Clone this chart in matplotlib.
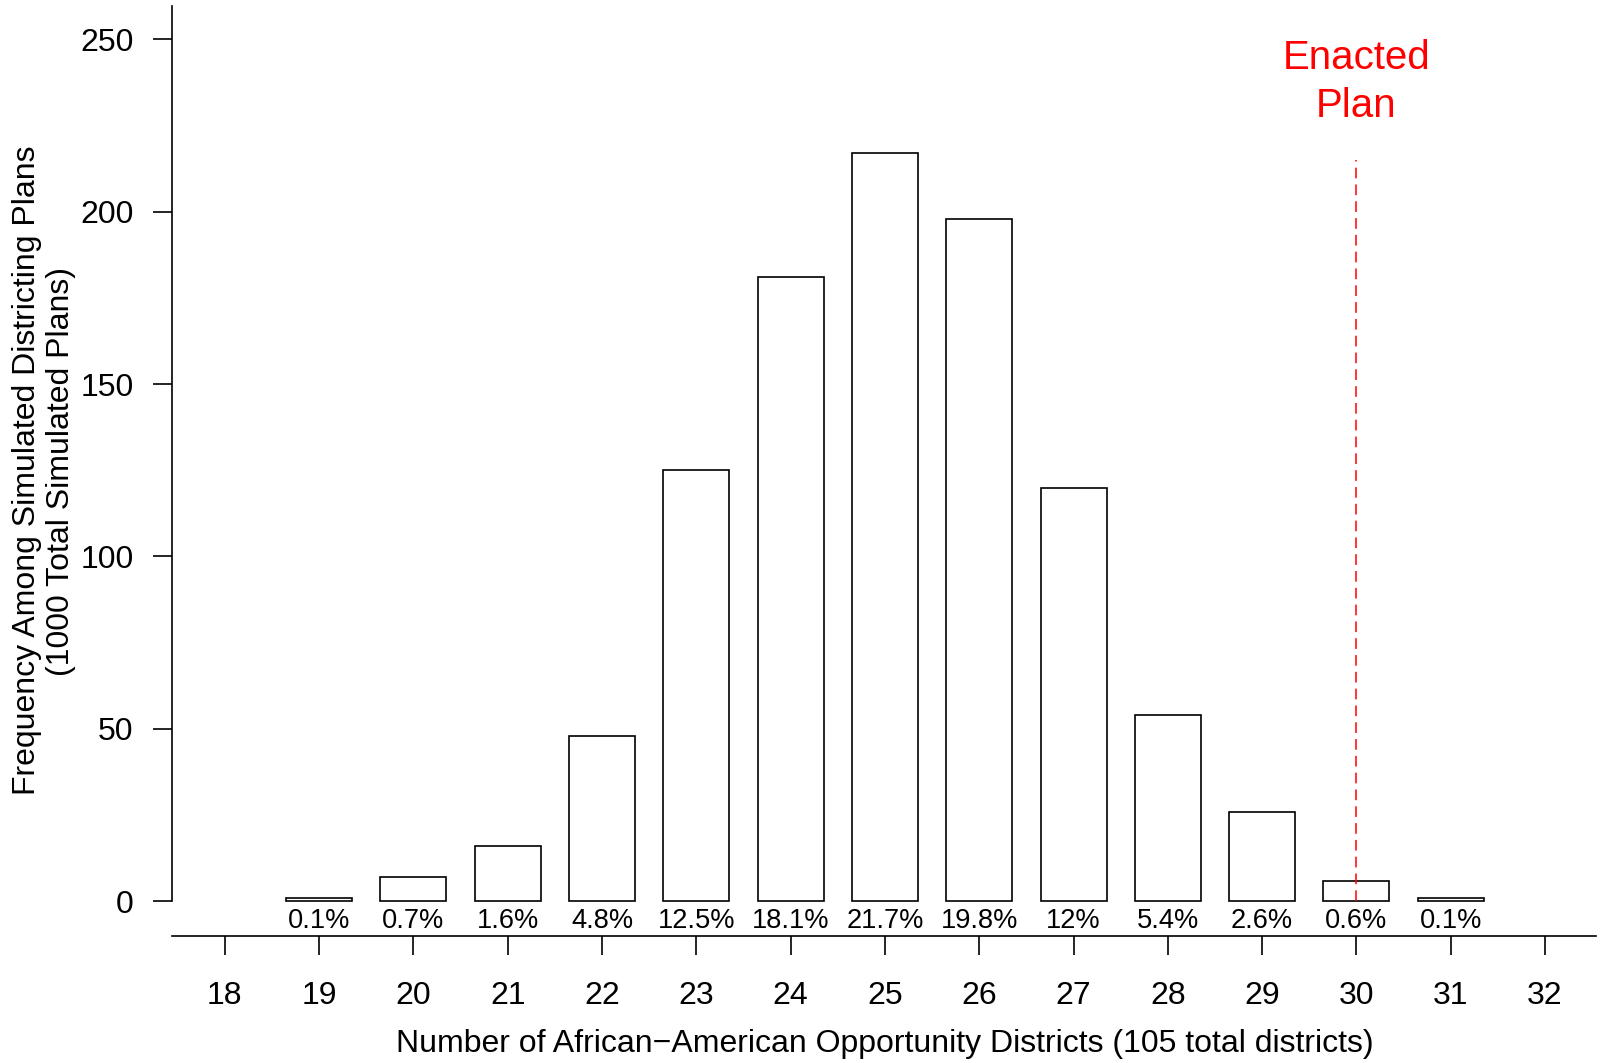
import matplotlib.pyplot as plt

plt.rcParams['font.family'] = ['Liberation Sans', 'DejaVu Sans']

districts = [19, 20, 21, 22, 23, 24, 25, 26, 27, 28, 29, 30, 31]
counts = [1, 7, 16, 48, 125, 181, 217, 198, 120, 54, 26, 6, 1]
tick_values = list(range(18, 33))
enacted = 30
total = 1000

W, H = 1602, 1063
fig = plt.figure(figsize=(W / 100, H / 100), dpi=100)
# axes placed in pixel terms to match the R base-graphics layout
left, right, top, bottom = 172, 1596, 6, 936
ax = fig.add_axes([left / W, 1 - bottom / H, (right - left) / W, (bottom - top) / H])

ax.bar(districts, counts, width=0.7, color='white', edgecolor='black', linewidth=1.2, zorder=2)
for d, c in zip(districts, counts):
    ax.text(d, -5.7, f"{c / total * 100:g}%", ha='center', va='center', fontsize=19.6)

ax.vlines(enacted, 0, 215, colors='red', linestyles=(0, (7, 4)), linewidth=1.1, zorder=3)
ax.text(enacted, 237.6, "Enacted\nPlan", color='red', ha='center', va='center',
        fontsize=29, linespacing=1.32)

ax.set_xlim(17.44, 32.54)
ax.set_ylim(-10.1, 259.7)
ax.set_xticks(tick_values)
ax.set_yticks([0, 50, 100, 150, 200, 250])

for s in ['top', 'right']:
    ax.spines[s].set_visible(False)
ax.spines['left'].set_bounds(0, 259.7)
ax.spines['left'].set_linewidth(1.2)
ax.spines['bottom'].set_linewidth(1.2)

ax.tick_params(axis='x', length=13.7, width=1.2, labelsize=23, pad=19)
ax.tick_params(axis='y', length=13.7, width=1.2, labelsize=23, pad=14)

fig.text(885 / W, 1 - 1044 / H, "Number of African\u2212American Opportunity Districts (105 total districts)",
         ha='center', va='center', fontsize=23)
fig.text(27 / W, 1 - 470 / H, "Frequency Among Simulated Districting Plans",
         ha='center', va='center', rotation=90, fontsize=23)
fig.text(61 / W, 1 - 471 / H, "(1000 Total Simulated Plans)",
         ha='center', va='center', rotation=90, fontsize=23)

fig.savefig('out.png', dpi=100)
